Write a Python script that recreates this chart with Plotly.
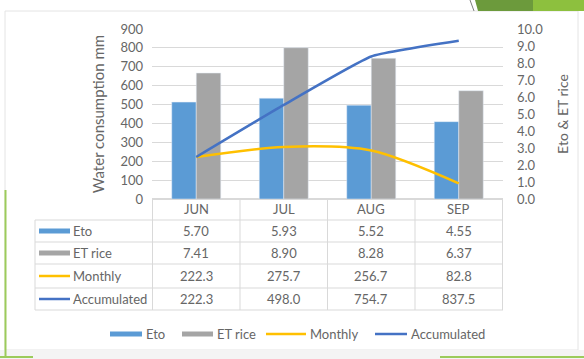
import plotly.graph_objects as go

# Monthly water balance for the rice season
months = ["JUN", "JUL", "AUG", "SEP"]
eto = [5.70, 5.93, 5.52, 4.55]
et_rice = [7.41, 8.90, 8.28, 6.37]
monthly = [222.3, 275.7, 256.7, 82.8]
accumulated = [222.3, 498.0, 754.7, 837.5]

C_ETO = "#5B9BD5"
C_ETR = "#A5A5A5"
C_MON = "#FFC000"
C_ACC = "#4472C4"
TXT = "#666666"
GRID = "#D9D9D9"
FONT = "Lato"

W, H = 584, 359
L, R, T, B = 152, 81, 29, 160
PW, PH = W - L - R, H - T - B


def px(x):
    return (x - L) / PW


def py(y):
    return (H - B - y) / PH


fig = go.Figure()
# bars on the primary (right-hand) axis so the lines on the overlay sit on top
fig.add_trace(go.Bar(x=months, y=eto, name="Eto", marker_color=C_ETO))
fig.add_trace(go.Bar(x=months, y=et_rice, name="ET rice", marker_color=C_ETR))
fig.add_trace(go.Scatter(x=months, y=monthly, name="Monthly", mode="lines", yaxis="y2",
                         line=dict(color=C_MON, width=2.5, shape="spline", smoothing=0.8)))
fig.add_trace(go.Scatter(x=months, y=accumulated, name="Accumulated", mode="lines", yaxis="y2",
                         line=dict(color=C_ACC, width=2.5, shape="spline", smoothing=0.4)))

shapes = []
annotations = []
tfont = dict(size=13, color=TXT, family=FONT)
series = [(fig.data[0].name, eto, "{:.2f}", C_ETO, 5),
          (fig.data[1].name, et_rice, "{:.2f}", C_ETR, 5),
          (fig.data[2].name, monthly, "{:.1f}", C_MON, 2.5),
          (fig.data[3].name, accumulated, "{:.1f}", C_ACC, 2.5)]

# data table under the plot
row_y = [209, 231, 253, 276, 299]
row_lines = [220, 242, 264, 288, 310]
for yy in row_lines:
    shapes.append(dict(type="line", xref="paper", yref="paper",
                       x0=px(35), x1=px(503), y0=py(yy), y1=py(yy),
                       line=dict(color=GRID, width=1)))
for k in range(len(months) + 1):
    shapes.append(dict(type="line", xref="x", yref="paper",
                       x0=k - 0.5, x1=k - 0.5, y0=py(199), y1=py(310),
                       line=dict(color=GRID, width=1)))
shapes.append(dict(type="line", xref="paper", yref="paper",
                   x0=px(35), x1=px(35), y0=py(220), y1=py(310),
                   line=dict(color=GRID, width=1)))

for m in months:
    annotations.append(dict(x=m, xref="x", y=py(row_y[0]), yref="paper", text=m,
                            xanchor="center", yanchor="middle", showarrow=False, font=tfont))

for r, (name, vals, fmt, col, lw) in enumerate(series):
    yy = py(row_y[r + 1])
    shapes.append(dict(type="line", xref="paper", yref="paper",
                       x0=px(39), x1=px(70), y0=yy, y1=yy,
                       line=dict(color=col, width=lw)))
    annotations.append(dict(x=px(71), xref="paper", y=yy, yref="paper", text=name,
                            xanchor="left", yanchor="middle", showarrow=False, font=tfont))
    for m, v in zip(months, vals):
        annotations.append(dict(x=m, xref="x", y=yy, yref="paper", text=fmt.format(v),
                                xanchor="center", yanchor="middle", showarrow=False, font=tfont))

# legend row along the bottom
leg_y = py(334)
leg_keys = [(110, 142), (182, 213), (266, 306), (375, 407)]
for (k0, k1), (name, _, _, col, lw) in zip(leg_keys, series):
    shapes.append(dict(type="line", xref="paper", yref="paper",
                       x0=px(k0), x1=px(k1), y0=leg_y, y1=leg_y,
                       line=dict(color=col, width=lw)))
    annotations.append(dict(x=px(k1 + 2), xref="paper", y=leg_y, yref="paper", text=name,
                            xanchor="left", yanchor="middle", showarrow=False, font=tfont))

# panel frame and slide decoration
shapes.append(dict(type="rect", xref="paper", yref="paper", layer="below",
                   x0=px(5), x1=px(578), y0=py(11), y1=py(350),
                   line=dict(color="#E4E4E4", width=1), fillcolor="white"))
shapes.append(dict(type="rect", xref="paper", yref="paper", layer="below",
                   x0=px(0), x1=px(584), y0=py(350), y1=py(359),
                   line=dict(width=0), fillcolor="#F4F4F4"))
shapes.append(dict(type="line", xref="paper", yref="paper",
                   x0=px(5.5), x1=px(5.5), y0=py(190), y1=py(357),
                   line=dict(color="#9CCB5B", width=2)))
shapes.append(dict(type="line", xref="paper", yref="paper",
                   x0=px(0), x1=px(33), y0=py(357), y1=py(357),
                   line=dict(color="#9CCB5B", width=2)))
shapes.append(dict(type="line", xref="paper", yref="paper",
                   x0=px(440), x1=px(584), y0=py(357), y1=py(357),
                   line=dict(color="#9CCB5B", width=2)))


def poly(pts):
    return "M " + " L ".join(f"{px(a)},{py(b)}" for a, b in pts) + " Z"


shapes.append(dict(type="path", xref="paper", yref="paper",
                   path=poly([(475, 0), (533, 0), (533, 11), (478, 11)]),
                   fillcolor="#6C9A3C", line=dict(width=0)))
shapes.append(dict(type="path", xref="paper", yref="paper",
                   path=poly([(533, 0), (584, 0), (584, 11), (533, 11)]),
                   fillcolor="#8DC03E", line=dict(width=0)))
shapes.append(dict(type="line", xref="paper", yref="paper",
                   x0=px(470), x1=px(474), y0=py(0), y1=py(11),
                   line=dict(color="#7F7F7F", width=1)))

fig.update_layout(
    width=W, height=H,
    margin=dict(l=L, r=R, t=T, b=B),
    paper_bgcolor="white", plot_bgcolor="rgba(0,0,0,0)",
    font=dict(family=FONT, size=13, color=TXT),
    showlegend=False,
    barmode="group", bargap=0.44, bargroupgap=0,
    xaxis=dict(showticklabels=False, showgrid=False, zeroline=False,
               showline=False, ticks=""),
    yaxis=dict(range=[0, 10], dtick=1, tickformat=".1f", side="right",
               showgrid=False, zeroline=False, showline=False, ticklabelstandoff=13,
               title=dict(text="Eto & ET rice", font=dict(size=14, color=TXT), standoff=16),
               tickfont=dict(size=13, color=TXT)),
    yaxis2=dict(range=[0, 900], dtick=100, overlaying="y", side="left",
                showgrid=True, gridcolor=GRID, zeroline=True, zerolinecolor=GRID,
                showline=False, ticklabelstandoff=8,
                title=dict(text="Water consumption mm", font=dict(size=15, color=TXT), standoff=12),
                tickfont=dict(size=13, color=TXT)),
    shapes=shapes, annotations=annotations,
)

fig.write_html("out.html")
